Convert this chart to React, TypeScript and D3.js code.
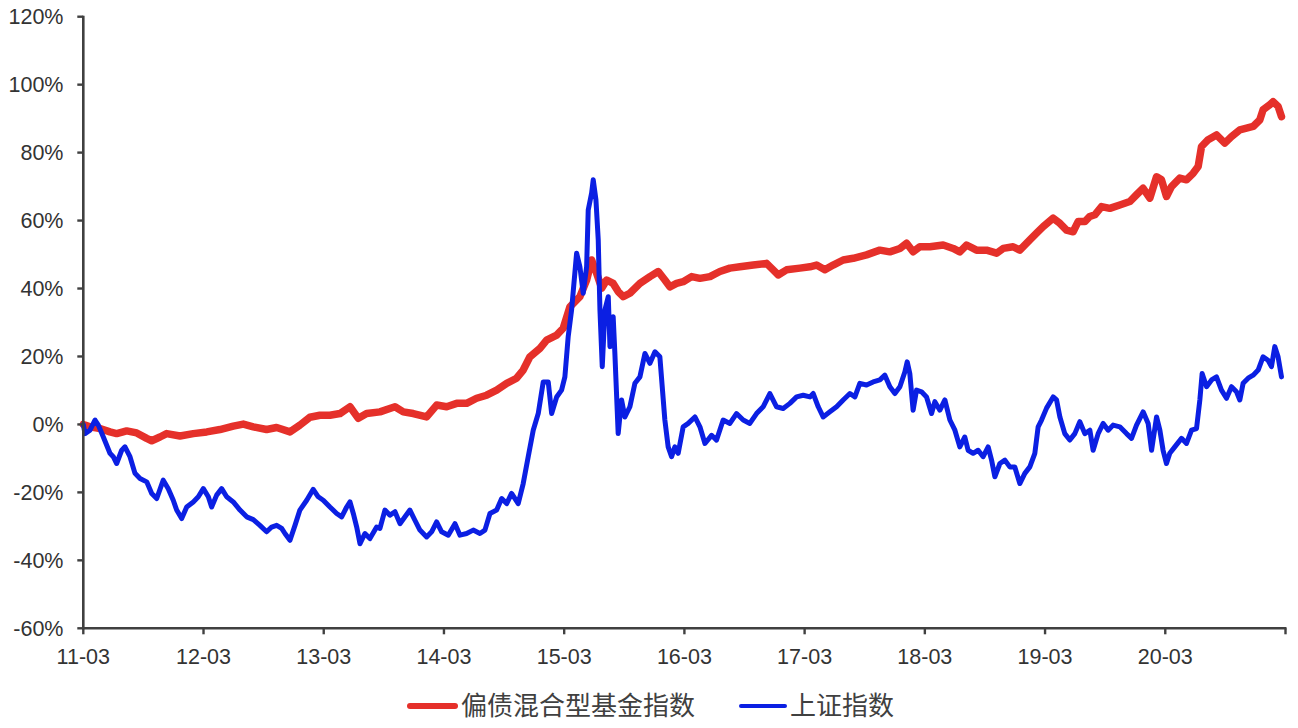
import React from "react";
import * as d3 from "d3";

// time axis: months elapsed since 2011-03
const tickMonths = [0, 12, 24, 36, 48, 60, 72, 84, 96, 108, 120];
const tickLabels = ["11-03", "12-03", "13-03", "14-03", "15-03", "16-03", "17-03", "18-03", "19-03", "20-03", ""];
const yTicks = [-60, -40, -20, 0, 20, 40, 60, 80, 100, 120];

const seriesNames = ["偏债混合型基金指数", "上证指数"];
const seriesColors = ["#E5302A", "#0B1FE3"];

// 偏债混合型基金指数 (%)
const bondMonths = [0, 0.17, 0.67, 1.66, 2.66, 3.33, 4.33, 5.33, 6.33, 6.83, 7.65, 8.32, 9.65, 10.98, 12.32, 13.64, 14.97, 15.97, 16.97, 18.3, 19.3, 20.63, 21.62, 22.62, 23.62, 24.62, 25.62, 26.62, 27.45, 28.28, 29.61, 31.11, 31.94, 32.93, 34.27, 35.27, 36.27, 37.27, 38.26, 39.26, 40.26, 41.26, 42.26, 43.25, 43.91, 44.58, 45.58, 46.25, 47.25, 47.9, 48.57, 49.57, 50.24, 50.74, 51.24, 51.74, 52.24, 52.89, 53.39, 53.89, 54.56, 55.56, 56.56, 57.39, 58.05, 58.55, 59.22, 59.88, 60.72, 61.55, 62.55, 63.54, 64.54, 65.54, 66.87, 68.2, 68.86, 69.36, 70.2, 71.53, 72.53, 73.19, 74.02, 74.85, 75.85, 76.85, 78.18, 79.51, 80.51, 81.51, 82.18, 82.83, 83.5, 84.5, 85.83, 86.83, 87.49, 88.16, 89.16, 90.16, 91.16, 91.82, 92.81, 93.48, 94.48, 95.15, 95.81, 96.81, 97.48, 98.14, 98.8, 99.3, 99.97, 100.47, 100.97, 101.64, 102.46, 103.46, 104.46, 105.13, 105.79, 106.46, 107.13, 107.62, 108.12, 108.62, 109.45, 110.12, 110.78, 111.28, 111.62, 112.28, 113.11, 113.94, 114.61, 115.44, 116.11, 116.77, 117.43, 117.76, 118.43, 118.76, 119.26, 119.6];
const bondValues = [0, -0.2, -0.7, -1.2, -2.2, -2.7, -1.9, -2.5, -4.1, -4.8, -3.7, -2.7, -3.4, -2.7, -2.2, -1.5, -0.5, 0.1, -0.7, -1.5, -0.9, -2.2, -0.2, 2.1, 2.7, 2.7, 3.2, 5.2, 1.8, 3.2, 3.7, 5.2, 3.7, 3.2, 2.2, 5.7, 5.2, 6.2, 6.2, 7.7, 8.6, 10.1, 12.1, 13.6, 16.0, 19.9, 22.4, 24.8, 26.3, 28.3, 34.6, 37.6, 42.5, 48.4, 44.5, 40.1, 42.5, 41.5, 39.1, 37.6, 38.6, 41.5, 43.5, 45.0, 42.5, 40.5, 41.5, 42.0, 43.5, 43.0, 43.5, 45.0, 46.0, 46.4, 46.9, 47.4, 45.5, 44.0, 45.5, 46.0, 46.4, 46.9, 45.5, 46.9, 48.4, 48.9, 49.9, 51.3, 50.8, 51.8, 53.3, 50.8, 52.3, 52.3, 52.8, 51.8, 50.8, 52.8, 51.3, 51.3, 50.4, 51.8, 52.3, 51.3, 54.3, 56.3, 58.2, 60.7, 59.2, 57.2, 56.7, 59.7, 59.7, 61.2, 61.7, 64.1, 63.6, 64.6, 65.6, 67.6, 69.5, 66.6, 72.9, 72.0, 67.1, 70.0, 72.5, 72.0, 73.9, 75.9, 81.8, 83.8, 85.2, 82.8, 84.7, 86.7, 87.2, 87.7, 89.6, 92.6, 94.1, 95.0, 93.6, 90.6];

// 上证指数 (%)
const shMonths = [0, 0.17, 0.67, 1.17, 1.5, 2.0, 2.66, 2.99, 3.33, 3.83, 4.16, 4.66, 5.16, 5.66, 6.33, 6.83, 7.33, 7.98, 8.48, 8.98, 9.32, 9.82, 10.32, 10.98, 11.48, 11.98, 12.48, 12.81, 13.31, 13.81, 14.31, 14.97, 15.64, 16.31, 16.97, 17.63, 18.3, 18.8, 19.3, 19.8, 20.13, 20.63, 21.13, 21.62, 22.3, 22.95, 23.45, 23.95, 24.62, 25.29, 25.79, 26.29, 26.62, 26.95, 27.29, 27.62, 28.11, 28.61, 29.28, 29.61, 30.11, 30.61, 31.11, 31.61, 32.11, 32.6, 33.1, 33.6, 34.27, 34.77, 35.27, 35.77, 36.43, 37.1, 37.6, 38.26, 38.92, 39.59, 40.09, 40.59, 41.26, 41.76, 42.26, 42.75, 43.41, 43.91, 44.41, 44.91, 45.41, 45.91, 46.41, 46.75, 47.25, 47.74, 48.07, 48.4, 48.74, 49.24, 49.57, 49.9, 50.24, 50.4, 50.74, 50.9, 51.17, 51.4, 51.57, 51.8, 52.07, 52.4, 52.57, 52.89, 53.06, 53.39, 53.73, 54.06, 54.56, 55.06, 55.56, 56.06, 56.56, 57.06, 57.55, 58.05, 58.38, 58.72, 59.05, 59.38, 59.88, 60.38, 61.05, 61.55, 62.05, 62.71, 63.21, 63.87, 64.54, 65.2, 65.87, 66.53, 67.2, 67.86, 68.53, 69.2, 69.86, 70.53, 71.2, 71.86, 72.53, 72.86, 73.36, 73.85, 74.52, 75.19, 75.85, 76.52, 77.02, 77.51, 78.18, 78.84, 79.51, 80.01, 80.51, 81.01, 81.51, 82.01, 82.24, 82.5, 82.83, 83.17, 83.67, 84.17, 84.67, 85.0, 85.5, 86.0, 86.5, 87.0, 87.49, 87.99, 88.32, 88.82, 89.32, 89.82, 90.32, 90.66, 90.99, 91.49, 91.99, 92.48, 92.98, 93.48, 93.98, 94.48, 94.98, 95.31, 95.65, 96.15, 96.81, 97.15, 97.48, 97.97, 98.47, 98.97, 99.47, 99.97, 100.47, 100.8, 101.3, 101.8, 102.3, 102.79, 103.46, 104.13, 104.63, 105.13, 105.79, 106.29, 106.63, 107.13, 107.46, 107.78, 108.12, 108.45, 108.95, 109.62, 110.12, 110.62, 111.12, 111.45, 111.68, 112.12, 112.62, 113.11, 113.61, 114.11, 114.61, 115.11, 115.44, 115.77, 116.27, 116.77, 117.27, 117.76, 118.26, 118.6, 118.93, 119.26, 119.6];
const shValues = [0, -2.7, -1.7, 1.3, -0.2, -3.7, -8.5, -9.5, -11.5, -7.6, -6.6, -9.5, -14.4, -15.9, -16.9, -20.3, -21.8, -16.4, -18.9, -22.3, -25.2, -27.7, -24.3, -22.8, -21.3, -18.9, -21.3, -24.3, -20.8, -18.9, -21.3, -22.8, -25.2, -27.2, -28.0, -29.7, -31.6, -30.2, -29.7, -30.6, -32.1, -34.1, -29.7, -25.2, -22.3, -19.1, -21.3, -22.3, -24.3, -26.2, -27.2, -24.3, -22.8, -26.2, -30.2, -35.1, -32.1, -33.6, -30.2, -30.6, -25.2, -26.7, -25.7, -29.2, -27.2, -25.2, -28.2, -31.1, -33.1, -31.6, -28.7, -31.6, -32.6, -29.2, -32.6, -32.1, -31.1, -32.1, -31.1, -26.2, -25.2, -21.8, -23.3, -20.3, -23.3, -17.4, -9.5, -1.7, 3.2, 12.5, 12.5, 3.2, 8.1, 10.1, 14.0, 25.8, 33.7, 50.4, 46.4, 38.6, 46.4, 63.1, 68.1, 72.0, 66.1, 54.3, 33.7, 17.0, 33.7, 37.6, 22.9, 31.7, 20.9, -2.7, 7.2, 2.2, 5.2, 12.1, 14.0, 20.9, 18.0, 21.4, 19.9, 1.3, -6.6, -9.5, -6.6, -8.5, -0.7, 0.3, 2.2, -0.7, -5.6, -3.2, -4.6, 1.3, 0.3, 3.2, 1.3, 0.3, 3.2, 5.2, 9.1, 5.2, 4.7, 6.2, 8.1, 8.6, 8.1, 9.1, 5.2, 2.2, 3.7, 5.2, 7.2, 9.1, 8.1, 12.1, 11.6, 12.5, 13.1, 14.5, 11.1, 9.1, 11.1, 15.5, 18.4, 15.0, 4.2, 10.1, 9.6, 8.1, 3.2, 6.7, 4.2, 7.2, 1.3, -1.7, -6.6, -3.7, -7.6, -8.5, -7.6, -9.5, -6.6, -10.5, -15.4, -11.5, -10.5, -12.5, -12.5, -17.4, -14.4, -12.5, -8.5, -0.7, 1.3, 4.8, 8.1, 7.2, 2.2, -2.7, -4.6, -2.7, 0.8, -2.7, -1.7, -7.6, -2.7, 0.3, -1.7, -0.2, -0.7, -2.7, -4.1, -0.2, 3.7, 0.3, -7.6, 2.2, -1.7, -7.6, -11.5, -8.5, -6.6, -4.1, -5.6, -1.7, -1.2, 7.2, 15.0, 11.1, 13.1, 14.0, 10.1, 7.7, 11.1, 9.6, 7.2, 12.1, 13.6, 14.5, 16.0, 19.9, 18.9, 17.0, 22.9, 19.9, 14.0];

const W = 1298;
const H = 728;
const axisColor = "#404040";
const textColor = "#333333";
const font = "Arial, 'Liberation Sans', sans-serif";
const cjkFont = "'Noto Sans CJK SC', 'Liberation Sans', sans-serif";

export default function App() {
  const x = d3.scaleLinear().domain([0, 120]).range([83.3, 1285.5]);
  const y = d3.scaleLinear().domain([-60, 120]).range([628.3, 16.7]);

  const line = d3
    .line<[number, number]>()
    .x((d) => x(d[0]))
    .y((d) => y(d[1]))
    .curve(d3.curveLinear);

  const bondPts: [number, number][] = bondMonths.map((m, i) => [m, bondValues[i]]);
  const shPts: [number, number][] = shMonths.map((m, i) => [m, shValues[i]]);

  const y0 = y(-60);
  const x0 = x(0);

  return (
    <svg
      width={W}
      height={H}
      viewBox={`0 0 ${W} ${H}`}
      style={{ position: "absolute", left: 0, top: 0, background: "#fff" }}
    >
      <rect x={0} y={0} width={W} height={H} fill="#fff" />
      {/* series */}
      <path
        d={line(bondPts) || ""}
        fill="none"
        stroke={seriesColors[0]}
        strokeWidth={7.5}
        strokeLinejoin="round"
        strokeLinecap="round"
      />
      <path
        d={line(shPts) || ""}
        fill="none"
        stroke={seriesColors[1]}
        strokeWidth={5}
        strokeLinejoin="round"
        strokeLinecap="round"
      />
      {/* y axis */}
      <line x1={x0} x2={x0} y1={y(120) - 1} y2={y0 + 1} stroke={axisColor} strokeWidth={2.6} />
      {yTicks.map((t) => (
        <g key={"y" + t}>
          <line x1={x0 - 6} x2={x0} y1={y(t)} y2={y(t)} stroke={axisColor} strokeWidth={2.4} />
          <text
            x={63.5}
            y={y(t)}
            dy="0.36em"
            textAnchor="end"
            fontFamily={font}
            fontSize={21.5}
            fill={textColor}
          >
            {t + "%"}
          </text>
        </g>
      ))}
      {/* x axis */}
      <line x1={x0 - 1} x2={x(120) + 1} y1={y0} y2={y0} stroke={axisColor} strokeWidth={2.6} />
      {tickMonths.map((m, i) => (
        <g key={"x" + m}>
          <line x1={x(m)} x2={x(m)} y1={y0} y2={y0 + 6} stroke={axisColor} strokeWidth={2.4} />
          {tickLabels[i] && (
            <text
              x={x(m)}
              y={663.5}
              textAnchor="middle"
              fontFamily={font}
              fontSize={21.5}
              fill={textColor}
            >
              {tickLabels[i]}
            </text>
          )}
        </g>
      ))}
      {/* legend */}
      <g>
        <line x1={410} x2={455} y1={706} y2={706} stroke={seriesColors[0]} strokeWidth={6} strokeLinecap="round" />
        <text x={461} y={715} fontFamily={cjkFont} fontSize={26} fill="#404040">
          {seriesNames[0]}
        </text>
        <line x1={741} x2={785} y1={706} y2={706} stroke={seriesColors[1]} strokeWidth={4} strokeLinecap="round" />
        <text x={790} y={715} fontFamily={cjkFont} fontSize={26} fill="#404040">
          {seriesNames[1]}
        </text>
      </g>
    </svg>
  );
}
